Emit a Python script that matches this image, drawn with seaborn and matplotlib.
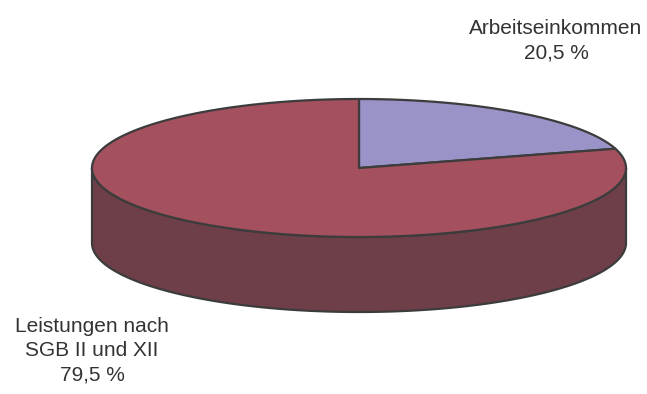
import numpy as np
import matplotlib
matplotlib.use("Agg")
import matplotlib.pyplot as plt
import seaborn as sns

# Income sources (percent)
categories = ["Arbeitseinkommen", "Leistungen nach\nSGB II und XII"]
shares = [20.5, 79.5]
top_colors = ["#9993C7", "#A5505E"]
side_colors = ["#6A5F8F", "#6E3F48"]

sns.set_theme(style="white")
plt.rcParams["font.family"] = ["Liberation Sans", "DejaVu Sans"]

fig = plt.figure(figsize=(6.47, 3.94), dpi=100)
ax = fig.add_axes([0, 0, 1, 1])
ax.set_xlim(0, 647)
ax.set_ylim(394, 0)
ax.axis("off")

# Ellipse geometry of the tilted pie (pixel space)
cx, cy, a, b, depth = 359, 168, 267, 69, 75
edge = "#3C3C3C"
lw = 1.6


def pt(theta_deg, dy=0.0):
    t = np.deg2rad(theta_deg)
    return cx + a * np.cos(t), cy - b * np.sin(t) + dy


# slice angles: start at 12 o'clock, go clockwise
fracs = np.array(shares) / sum(shares)
starts = 90 - 360 * np.concatenate([[0], np.cumsum(fracs)[:-1]])
ends = starts - 360 * fracs

# side walls (only the front half, 180..360 deg, is visible)
for s, e, col in zip(starts, ends, side_colors):
    lo, hi = min(s, e), max(s, e)
    for k in (-360, 0, 360):
        l2, h2 = max(lo + k, 180), min(hi + k, 360)
        if h2 > l2:
            th = np.linspace(l2, h2, 200)
            x1, y1 = pt(th)
            x2, y2 = pt(th[::-1], depth)
            ax.fill(np.r_[x1, x2], np.r_[y1, y2], color=col,
                    ec=edge, lw=lw, joinstyle="round", zorder=1)

# top faces
for s, e, col in zip(starts, ends, top_colors):
    th = np.linspace(s, e, 400)
    x, y = pt(th)
    ax.fill(np.r_[cx, x, cx], np.r_[cy, y, cy], color=col,
            ec=edge, lw=lw, joinstyle="round", zorder=2)

# labels
def fmt(v):
    return f"{v:.1f} %".replace(".", ",")

txt = dict(ha="center", va="center", fontsize=15, color="#333333",
           linespacing=1.36)
ax.text(556, 41, f"{categories[0]}\n{fmt(shares[0])}", **txt)
ax.text(92, 351, f"{categories[1]}\n{fmt(shares[1])}", **txt)

fig.savefig("out.png", dpi=100)
